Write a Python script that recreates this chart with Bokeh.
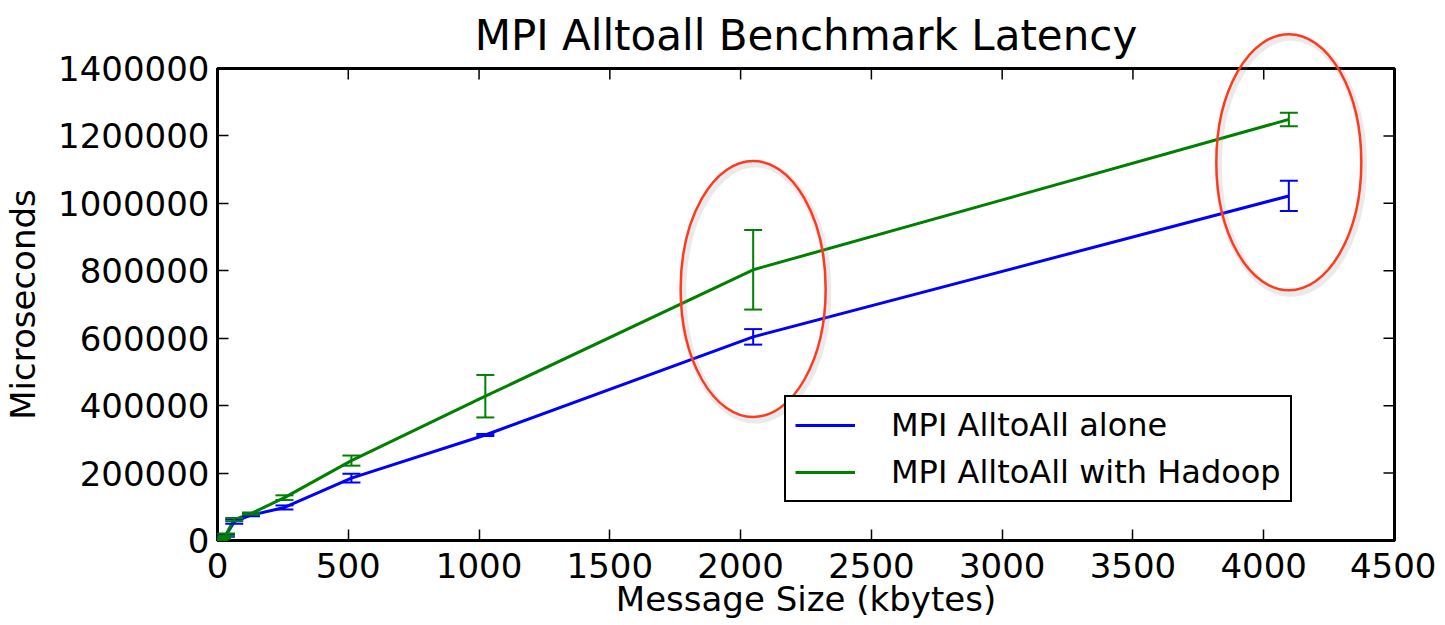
import math
from bokeh.plotting import figure
from bokeh.models import (Range1d, Whisker, ColumnDataSource, TeeHead,
                          Legend, LegendItem, FixedTicker, BasicTickFormatter)
from bokeh.embed import file_html
from bokeh.resources import INLINE

# ---- data ----
size_kb = [1, 2, 4, 8, 16, 32, 64, 128, 256, 512, 1024, 2048, 4096]
alone = [300, 600, 1200, 2500, 5500, 15000, 56000, 75000, 98000, 185000, 313000, 604000, 1022000]
alone_err = [200, 300, 500, 800, 1500, 4000, 6000, 3000, 6000, 13000, 3000, 23000, 45000]
hadoop = [350, 700, 1400, 3000, 6500, 17000, 62000, 80000, 127000, 237000, 428000, 803000, 1249000]
hadoop_err = [200, 300, 500, 800, 1500, 4000, 5000, 3000, 7000, 15000, 63000, 118000, 20000]
x_ticks = [0, 500, 1000, 1500, 2000, 2500, 3000, 3500, 4000, 4500]
y_ticks = [0, 200000, 400000, 600000, 800000, 1000000, 1200000, 1400000]
series_labels = ["MPI AlltoAll alone", "MPI AlltoAll with Hadoop"]
highlight_x = [2048, 4096]
highlight_y = [746000, 1122000]

FONT = "DejaVu Sans"
BLUE = "#0000ff"
GREEN = "#008000"
X_MIN, X_MAX = 0, 4500
Y_MIN, Y_MAX = 0, 1400000

p = figure(frame_width=1177, frame_height=472, output_backend="svg", toolbar_location=None,
           x_range=Range1d(X_MIN, X_MAX), y_range=Range1d(Y_MIN, Y_MAX),
           title="MPI Alltoall Benchmark Latency",
           min_border_left=210, min_border_right=42, min_border_top=59, min_border_bottom=78)

p.background_fill_color = "white"
p.border_fill_color = "white"
p.outline_line_color = "black"
p.outline_line_width = 3
p.xgrid.visible = False
p.ygrid.visible = False

p.title.text_font = FONT
p.title.text_font_size = "42px"
p.title.text_font_style = "normal"
p.title.align = "center"
p.title.text_color = "black"
p.title.standoff = 17

for ax, ticks in ((p.xaxis[0], x_ticks), (p.yaxis[0], y_ticks)):
    ax.ticker = FixedTicker(ticks=ticks)
    ax.formatter = BasicTickFormatter(use_scientific=False)
    ax.major_tick_in = 11
    ax.major_tick_out = 0
    ax.major_tick_line_width = 1.5
    ax.major_tick_line_color = "black"
    ax.minor_tick_line_color = None
    ax.axis_line_width = 3
    ax.axis_line_color = "black"
    ax.major_label_text_font = FONT
    ax.major_label_text_font_size = "34px"
    ax.major_label_text_color = "black"
    ax.axis_label_text_font = FONT
    ax.axis_label_text_font_size = "34px"
    ax.axis_label_text_font_style = "normal"
    ax.axis_label_text_color = "black"

p.xaxis[0].axis_label = "Message Size (kbytes)"
p.yaxis[0].axis_label = "Microseconds"
p.xaxis[0].major_label_standoff = 12
p.yaxis[0].major_label_standoff = 8
p.xaxis[0].axis_label_standoff = -2
p.yaxis[0].axis_label_standoff = 12

# mirrored inward ticks on top and right edges (half of each dash is clipped by the frame)
p.scatter(x=x_ticks, y=[Y_MAX] * len(x_ticks), marker="dash", size=22,
          angle=math.pi / 2, line_color="black", line_width=1.5)
p.scatter(x=[X_MAX] * len(y_ticks), y=y_ticks, marker="dash", size=22,
          line_color="black", line_width=1.5)

src_a = ColumnDataSource(dict(x=size_kb, y=alone,
                              lo=[v - e for v, e in zip(alone, alone_err)],
                              hi=[v + e for v, e in zip(alone, alone_err)]))
src_h = ColumnDataSource(dict(x=size_kb, y=hadoop,
                              lo=[v - e for v, e in zip(hadoop, hadoop_err)],
                              hi=[v + e for v, e in zip(hadoop, hadoop_err)]))

r_a = p.line("x", "y", source=src_a, line_color=BLUE, line_width=3)
r_h = p.line("x", "y", source=src_h, line_color=GREEN, line_width=3)

for src, col in ((src_a, BLUE), (src_h, GREEN)):
    w = Whisker(base="x", upper="hi", lower="lo", source=src, level="annotation",
                line_color=col, line_width=2,
                upper_head=TeeHead(size=18, line_color=col, line_width=2),
                lower_head=TeeHead(size=18, line_color=col, line_width=2))
    p.add_layout(w)

# red highlight ellipses (with soft shadow)
p.ellipse(x=[v + 8 for v in highlight_x], y=[v - 9000 for v in highlight_y],
          width=145, height=256, width_units="screen", height_units="screen",
          fill_color=None, line_color="#888888", line_alpha=0.18, line_width=7,
          level="overlay")
p.ellipse(x=highlight_x, y=highlight_y, width=145, height=256,
          width_units="screen", height_units="screen",
          fill_color=None, line_color="#ff3b1f", line_width=2.5, level="overlay")

legend = Legend(items=[LegendItem(label=series_labels[0], renderers=[r_a]),
                       LegendItem(label=series_labels[1], renderers=[r_h])],
                location=(567, 38), margin=0, padding=9, spacing=9,
                glyph_width=60, glyph_height=30, label_height=30,
                label_standoff=36,
                label_text_font=FONT, label_text_font_size="32px",
                label_text_color="black",
                border_line_color="black", border_line_width=2.5, border_line_alpha=1.0,
                background_fill_color="white", background_fill_alpha=1.0)
p.add_layout(legend, "center")

open("out.html", "w").write(file_html(p, INLINE))
